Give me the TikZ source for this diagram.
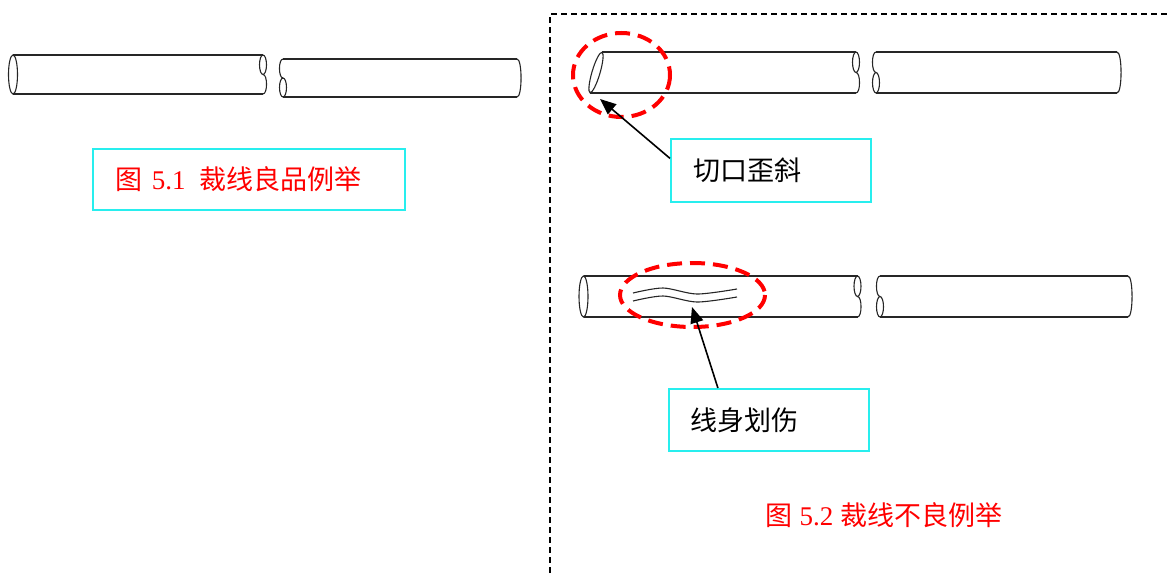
\documentclass[tikz,border=0pt]{standalone}
\usepackage{fontspec}
\setmainfont{Liberation Serif}
\newfontfamily\cjk{Noto Sans CJK SC}
\usetikzlibrary{arrows.meta}

\definecolor{boxcyan}{RGB}{40,238,238}

% cable piece with a plain left end (drawn separately) and a broken right end
% #1 top-left x, #2 bottom-left x, #3 right x, #4 top y, #5 bottom y
\newcommand\cableleft[5]{%
  \pgfmathsetmacro\cabq{(#5-#4)/4}%
  \pgfmathsetmacro\caba{#4+\cabq}%
  \pgfmathsetmacro\cabm{#4+2*\cabq}%
  \draw[cable] (#1,#4) -- (#3,#4) (#2,#5) -- (#3,#5);
  \draw[cable] (#3,\caba) ellipse [x radius=3.5, y radius=\cabq];
  \draw[cable] (#3,\cabm) .. controls +(4.7,0) and +(4.7,0) .. (#3,#5);
}
% cable piece with a broken left end and a rounded right end
% #1 left x, #2 right x, #3 top y, #4 bottom y
\newcommand\cableright[4]{%
  \pgfmathsetmacro\cabq{(#4-#3)/4}%
  \pgfmathsetmacro\cabm{#3+2*\cabq}%
  \pgfmathsetmacro\cabb{#3+3*\cabq}%
  \draw[cable] (#1,#3) -- (#2,#3) (#1,#4) -- (#2,#4);
  \draw[cable] (#1,#3) .. controls +(-4.7,0) and +(-4.7,0) .. (#1,\cabm);
  \draw[cable] (#1,\cabb) ellipse [x radius=3.5, y radius=\cabq];
  \draw[cable] (#2,#3) .. controls +(5.4,0) and +(5.4,0) .. (#2,#4);
}

\begin{document}
\begin{tikzpicture}[x=1pt,y=-1pt,
  cable/.style={draw=black!85, line width=1.1pt},
  flaw/.style={draw=red, line width=4pt, dash pattern=on 15pt off 8pt},
  frame/.style={draw=black, line width=1.6pt, dash pattern=on 6pt off 4pt},
  pointer/.style={draw=black, line width=1.6pt, -{Triangle[length=16pt,width=13pt]}},
  labelbox/.style={draw=boxcyan, line width=1.8pt, align=left, inner ysep=0pt,
    font=\fontsize{27}{32}\selectfont\cjk},
  caption/.style={text=red, font=\fontsize{27}{32}\selectfont}]
\useasboundingbox (0,0) rectangle (1167,573);

% frame around the faulty examples
\draw[frame] (550,573) -- (550,14) -- (1167,14);

% good cut: two pieces
\draw[cable] (13,74.5) ellipse [x radius=4.5, y radius=19.5];
\cableleft{13}{13}{263}{55}{94}
\cableright{283}{517}{59}{97}

\node[labelbox, caption, anchor=north west, text width=266pt, inner xsep=23pt,
  minimum height=61pt] (cap1) at (92,148) {{\cjk 图} 5.1\enspace{\cjk 裁线良品例举}};

% skewed cut
\draw[cable, shift={(596,72.5)}, rotate=-16.5] (0,0) ellipse [x radius=4, y radius=21];
\cableleft{602}{590}{856}{52}{93}
\cableright{876}{1117}{52}{93}
\draw[flaw] (621.5,75) ellipse [x radius=48.5, y radius=42];
\coordinate (cutpt) at (600,99);

\node[labelbox, anchor=north west, text width=154pt, inner xsep=23pt,
  minimum height=63pt] (b2) at (670,138) {切口歪斜};
\draw[pointer] ([yshift=12pt]b2.west) -- (cutpt);

% scratched insulation
\draw[cable] (583.5,296.5) ellipse [x radius=4.5, y radius=20.5];
\cableleft{583.5}{583.5}{857.5}{276}{317}
\cableright{880}{1128}{276}{317}
\draw[cable] plot[smooth] coordinates {(633,293) (663,288) (697,294) (737,289)};
\draw[cable] plot[smooth] coordinates {(633,301) (663,296) (697,302) (737,297)};
\draw[flaw] (692.5,295) ellipse [x radius=72.5, y radius=32];
\coordinate (scratchpt) at (692,307);

\node[labelbox, anchor=north west, text width=156pt, inner xsep=22pt,
  minimum height=62pt] (b3) at (668,388) {线身划伤};
\draw[pointer] ([xshift=-51pt]b3.north) -- (scratchpt);

\node[caption] (cap2) at (884,515) {{\cjk 图} 5.2 {\cjk 裁线不良例举}};
\end{tikzpicture}
\end{document}
